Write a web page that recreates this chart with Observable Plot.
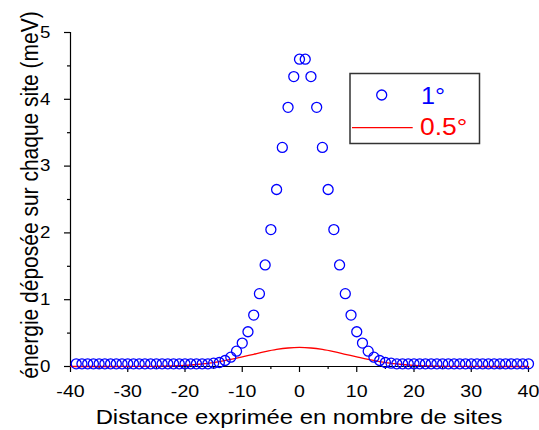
<!DOCTYPE html>
<html><head><meta charset="utf-8">
<script src="https://cdn.jsdelivr.net/npm/d3@7"></script>
<script src="https://cdn.jsdelivr.net/npm/@observablehq/plot@0.6"></script>
<style>
body{margin:0;background:#fff;}
#chart{position:relative;width:539px;height:430px;}
</style></head><body><div id="chart"></div>
<script>
// ---- data ----
const sites = [-39,-38,-37,-36,-35,-34,-33,-32,-31,-30,-29,-28,-27,-26,-25,-24,-23,-22,-21,-20,
  -19,-18,-17,-16,-15,-14,-13,-12,-11,-10,-9,-8,-7,-6,-5,-4,-3,-2,-1,0,
  1,2,3,4,5,6,7,8,9,10,11,12,13,14,15,16,17,18,19,20,
  21,22,23,24,25,26,27,28,29,30,31,32,33,34,35,36,37,38,39,40];
const energy1deg = [0.04,0.04,0.04,0.04,0.04,0.04,0.04,0.04,0.04,0.04,0.04,0.04,0.04,0.04,0.04,0.04,0.04,0.04,0.04,0.04,
  0.04,0.04,0.04,0.04,0.05,0.06,0.09,0.14,0.23,0.35,0.52,0.77,1.09,1.52,2.05,2.65,3.28,3.88,4.34,4.60,
  4.60,4.34,3.88,3.28,2.65,2.05,1.52,1.09,0.77,0.52,0.35,0.23,0.14,0.09,0.06,0.05,0.04,0.04,0.04,0.04,
  0.04,0.04,0.04,0.04,0.04,0.04,0.04,0.04,0.04,0.04,0.04,0.04,0.04,0.04,0.04,0.04,0.04,0.04,0.04,0.04];
const lineX = [-40,-38,-36,-34,-32,-30,-28,-26,-24,-22,-20,-18,-16,-14,-12,-10,-8,-6,-4,-2,0,
  2,4,6,8,10,12,14,16,18,20,22,24,26,28,30,32,34,36,38,40];
const energy05deg = [0,0,0,0,0,0.001,0.001,0.003,0.005,0.010,0.018,0.030,0.048,0.074,0.105,0.143,0.183,0.222,0.255,0.277,0.285,
  0.277,0.255,0.222,0.183,0.143,0.105,0.074,0.048,0.030,0.018,0.010,0.005,0.003,0.001,0.001,0,0,0,0,0];
const xTicks = [-40,-30,-20,-10,0,10,20,30,40];
const xMinorTicks = [-35,-25,-15,-5,5,15,25,35];
const yTicks = [0,1,2,3,4,5];
const yMinorTicks = [0.5,1.5,2.5,3.5,4.5];
const legendLabels = ["1°","0.5°"];
const xTitle = "Distance exprimée en nombre de sites";
const yTitle = "énergie déposée sur chaque site (meV)";

// ---- chart ----
const font = "'Liberation Sans', Arial, sans-serif";
const W = 539, H = 430, mL = 70, mR = 11, mT = 32, mB = 64;
const plot = Plot.plot({
  width: W, height: H, marginLeft: mL, marginRight: mR, marginTop: mT, marginBottom: mB,
  style: {fontFamily: font, fontSize: "17px", color: "#000", background: "#fff", overflow: "visible"},
  x: {domain: [-40, 40]},
  y: {domain: [0, 5]},
  marks: [
    Plot.axisX(xTicks, {tickSize: 6, tickPadding: 12, tickFormat: d => String(d), fontSize: 17, label: null, strokeWidth: 1.2}),
    Plot.axisX(xMinorTicks, {tickSize: 3, tickFormat: () => "", label: null, strokeWidth: 1.2}),
    Plot.axisY(yTicks, {tickSize: 6, tickPadding: 14, tickFormat: d => String(d), fontSize: 16.5, label: null, strokeWidth: 1.2}),
    Plot.axisY(yMinorTicks, {tickSize: 3, tickFormat: () => "", label: null, strokeWidth: 1.2}),
    Plot.ruleY([0], {stroke: "#000", strokeWidth: 1.2}),
    Plot.ruleX([-40], {stroke: "#000", strokeWidth: 1.2}),
    Plot.line(lineX, {x: lineX, y: energy05deg, stroke: "#ff0000", strokeWidth: 1.3, curve: "catmull-rom"}),
    Plot.dot(sites, {x: sites, y: energy1deg, r: 5, stroke: "#0000ff", strokeWidth: 1.3, fill: "none"})
  ]
});
document.getElementById("chart").appendChild(plot);

const svg = d3.select(plot);
// stretch labels horizontally (reference glyphs are wide)
function stretch(sel, f) {
  sel.each(function() {
    const len = this.getComputedTextLength();
    if (len > 0) {
      this.setAttribute("textLength", (len * f).toFixed(1));
      this.setAttribute("lengthAdjust", "spacingAndGlyphs");
    }
  });
}
stretch(svg.selectAll('g[aria-label="x-axis tick label"] text'), 1.15);
stretch(svg.selectAll('g[aria-label="y-axis tick label"] text'), 1.13);

// axis titles
const xt = svg.append("text")
  .attr("x", (mL + W - mR) / 2).attr("y", 424)
  .attr("text-anchor", "middle")
  .attr("font-family", font).attr("font-size", 21).attr("fill", "#000")
  .text(xTitle);
stretch(xt, 1.135);
svg.append("text")
  .attr("transform", "translate(38,195) scale(1.12,1) rotate(-90)")
  .attr("text-anchor", "middle")
  .attr("font-family", font).attr("font-size", 21).attr("fill", "#000")
  .text(yTitle);

// legend
const lg = svg.append("g");
lg.append("rect").attr("x", 350).attr("y", 73.5).attr("width", 129.5).attr("height", 70)
  .attr("fill", "#fff").attr("stroke", "#333").attr("stroke-width", 1.5);
lg.append("circle").attr("cx", 381.7).attr("cy", 95).attr("r", 5)
  .attr("fill", "none").attr("stroke", "#0000ff").attr("stroke-width", 1.3);
lg.append("line").attr("x1", 352).attr("x2", 412.7).attr("y1", 127.7).attr("y2", 127.7)
  .attr("stroke", "#ff0000").attr("stroke-width", 1.3);
const t1 = lg.append("text").attr("x", 421).attr("y", 103.5).attr("text-anchor", "start")
  .attr("font-family", font).attr("font-size", 24).attr("fill", "#0000ff").text(legendLabels[0]);
const t2 = lg.append("text").attr("x", 420).attr("y", 135).attr("text-anchor", "start")
  .attr("font-family", font).attr("font-size", 24).attr("fill", "#ff0000").text(legendLabels[1]);
stretch(t1, 1.05);
stretch(t2, 1.1);
</script></body></html>
